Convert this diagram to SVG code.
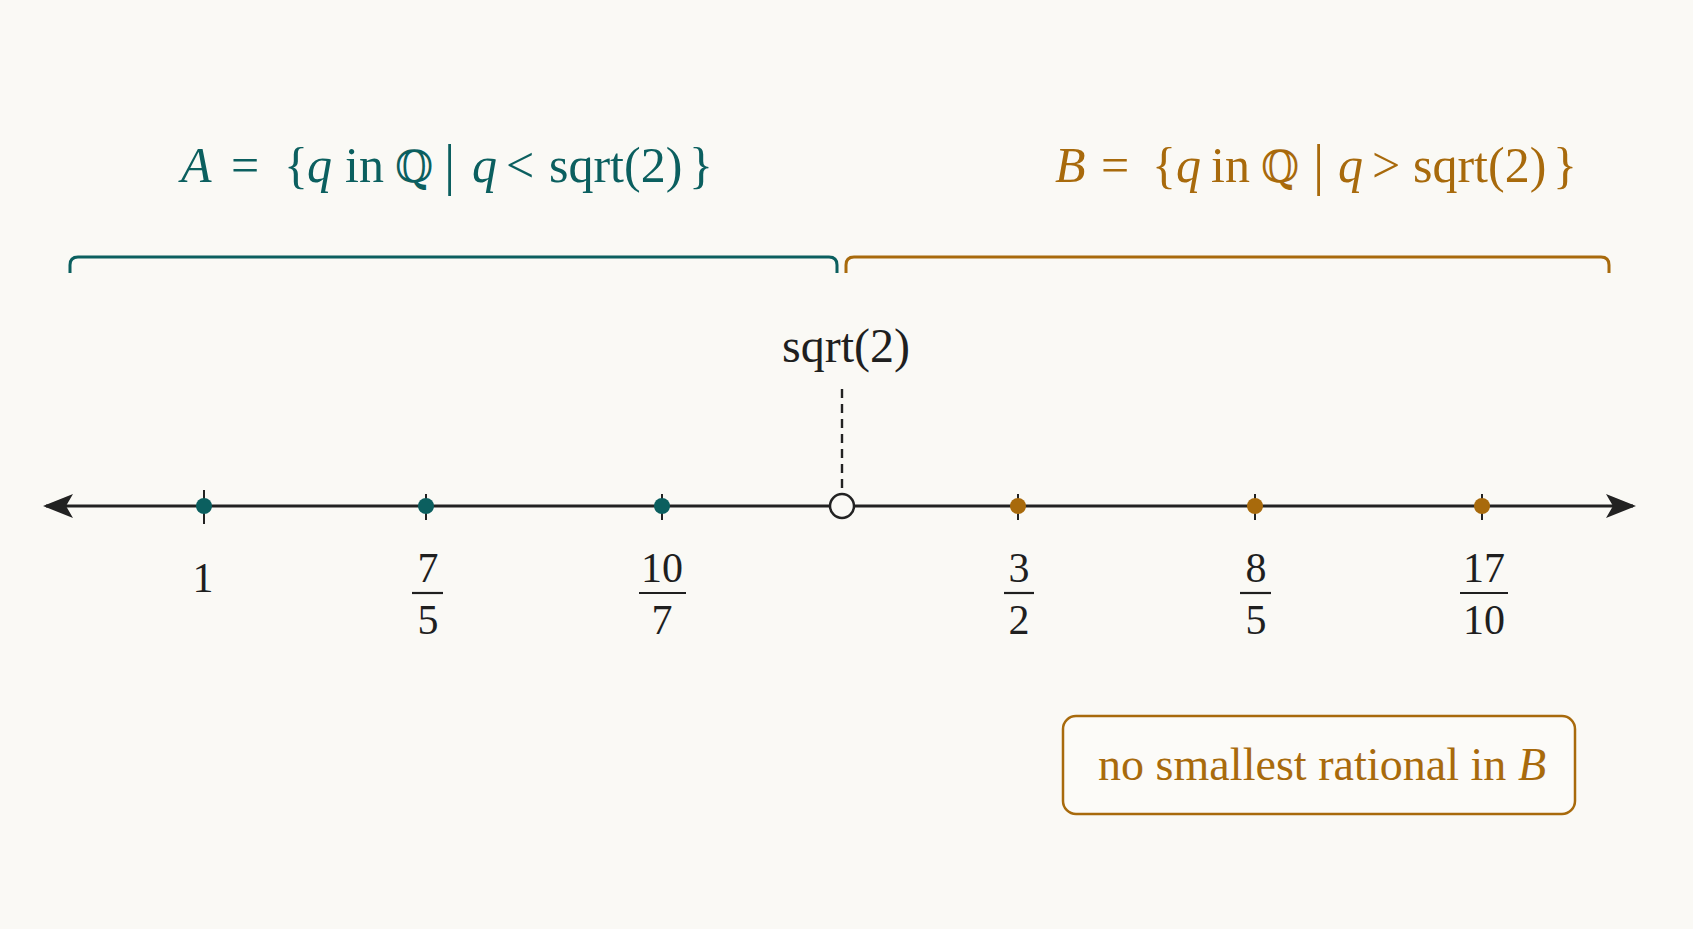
<svg xmlns="http://www.w3.org/2000/svg" width="1693" height="929" viewBox="0 0 1693 929">
<style>
.bg{fill:#faf9f5}
.m{font-family:"Liberation Serif","Times New Roman",serif}
.it{font-style:italic}
.bb{font-family:"DejaVu Serif","DejaVu Sans",serif;font-style:normal}
.teal{fill:#0b5f5f}
.ora{fill:#a86a0c}
.blk{fill:#1f1f1f}
.axis{stroke:#222;stroke-width:3;fill:none}
.tick{stroke:#222;stroke-width:2}
.bar{stroke:#1f1f1f;stroke-width:2.2}
</style>
<defs>
<marker id="ah" viewBox="0 0 30 24" refX="27" refY="12" markerWidth="30" markerHeight="24" markerUnits="userSpaceOnUse" orient="auto-start-reverse">
<path d="M0,0 L30,12 L0,24 L7,12 Z" fill="#222"/>
</marker>
</defs>
<rect class="bg" x="0" y="0" width="1693" height="929"/>

<g id="setA" class="m teal" font-size="50">
<text x="181" y="182"><tspan class="it">A</tspan></text>
<text x="231" y="182">=</text>
<text x="284" y="182">{</text>
<text x="307" y="182" class="it">q</text>
<text x="345" y="182">in</text>
<text x="395" y="182" class="bb" font-size="44">ℚ</text>
<text x="444" y="184" font-size="56">|</text>
<text x="472" y="182" class="it">q</text>
<text x="506" y="182">&lt;</text>
<text x="549" y="182">sqrt(2)</text>
<text x="689" y="182">}</text>
</g>

<g id="setB" class="m ora" font-size="50">
<text x="1055" y="182" class="it">B</text>
<text x="1101" y="182">=</text>
<text x="1152" y="182">{</text>
<text x="1176" y="182" class="it">q</text>
<text x="1211" y="182">in</text>
<text x="1261" y="182" class="bb" font-size="44">ℚ</text>
<text x="1313" y="184" font-size="56">|</text>
<text x="1338" y="182" class="it">q</text>
<text x="1372" y="182">&gt;</text>
<text x="1413" y="182">sqrt(2)</text>
<text x="1553" y="182">}</text>
</g>

<g id="braceA">
<path d="M70,273 V265 Q70,257 78,257 H829 Q837,257 837,265 V273" fill="none" stroke="#0b5f5f" stroke-width="3"/>
</g>
<g id="braceB">
<path d="M846,273 V265 Q846,257 854,257 H1601 Q1609,257 1609,265 V273" fill="none" stroke="#a86a0c" stroke-width="3"/>
</g>

<g id="connectors">
<line class="axis" x1="46" y1="506" x2="1633" y2="506" marker-start="url(#ah)" marker-end="url(#ah)"/>
<line x1="842" y1="389" x2="842" y2="493" stroke="#222" stroke-width="2.4" stroke-dasharray="9,6"/>
</g>

<g id="sqrt2">
<text x="846" y="362" class="m blk" font-size="48" text-anchor="middle">sqrt(2)</text>
<circle cx="842" cy="506" r="12" fill="#faf9f5" stroke="#222" stroke-width="2.5"/>
</g>

<g id="p1">
<line class="tick" x1="204" y1="490" x2="204" y2="524"/>
<circle cx="204" cy="506" r="8" fill="#0b5f5f"/>
<text x="203" y="592" class="m blk" font-size="42" text-anchor="middle">1</text>
</g>
<g id="p7_5">
<line class="tick" x1="426" y1="494" x2="426" y2="520"/>
<circle cx="426" cy="506" r="8" fill="#0b5f5f"/>
<text x="428" y="582" class="m blk" font-size="42" text-anchor="middle">7</text>
<line class="bar" x1="412" y1="593" x2="443" y2="593"/>
<text x="428" y="634" class="m blk" font-size="42" text-anchor="middle">5</text>
</g>
<g id="p10_7">
<line class="tick" x1="662" y1="494" x2="662" y2="520"/>
<circle cx="662" cy="506" r="8" fill="#0b5f5f"/>
<text x="662" y="582" class="m blk" font-size="42" text-anchor="middle">10</text>
<line class="bar" x1="639" y1="593" x2="686" y2="593"/>
<text x="662" y="634" class="m blk" font-size="42" text-anchor="middle">7</text>
</g>
<g id="p3_2">
<line class="tick" x1="1018" y1="494" x2="1018" y2="520"/>
<circle cx="1018" cy="506" r="8" fill="#a86a0c"/>
<text x="1019" y="582" class="m blk" font-size="42" text-anchor="middle">3</text>
<line class="bar" x1="1004" y1="593" x2="1034" y2="593"/>
<text x="1019" y="634" class="m blk" font-size="42" text-anchor="middle">2</text>
</g>
<g id="p8_5">
<line class="tick" x1="1255" y1="494" x2="1255" y2="520"/>
<circle cx="1255" cy="506" r="8" fill="#a86a0c"/>
<text x="1256" y="582" class="m blk" font-size="42" text-anchor="middle">8</text>
<line class="bar" x1="1240" y1="593" x2="1271" y2="593"/>
<text x="1256" y="634" class="m blk" font-size="42" text-anchor="middle">5</text>
</g>
<g id="p17_10">
<line class="tick" x1="1482" y1="494" x2="1482" y2="520"/>
<circle cx="1482" cy="506" r="8" fill="#a86a0c"/>
<text x="1484" y="582" class="m blk" font-size="42" text-anchor="middle">17</text>
<line class="bar" x1="1460" y1="593" x2="1508" y2="593"/>
<text x="1484" y="634" class="m blk" font-size="42" text-anchor="middle">10</text>
</g>

<g id="note">
<rect x="1063" y="716" width="512" height="98" rx="13" fill="#fcfbf8" stroke="#a86a0c" stroke-width="2.5"/>
<text x="1098" y="780" class="m ora" font-size="46" textLength="448" lengthAdjust="spacing">no smallest rational in <tspan class="it">B</tspan></text>
</g>
</svg>
